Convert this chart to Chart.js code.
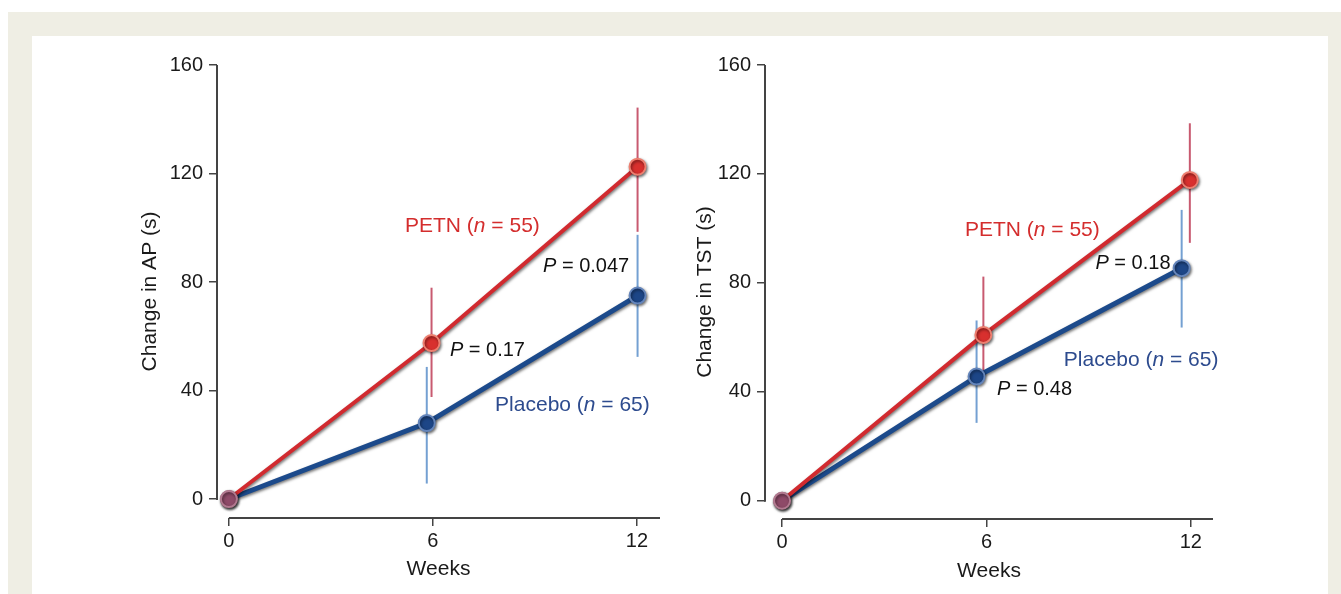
<!DOCTYPE html>
<html>
<head>
<meta charset="utf-8">
<title>PETN vs placebo</title>
<script src="https://cdn.jsdelivr.net/npm/chart.js@4.4.0/dist/chart.umd.min.js"></script>
<style>
  body { margin: 0; background: #fff; width: 1341px; height: 594px; overflow: hidden; position: relative; }
  #frame { position: absolute; left: 8px; top: 12px; right: 0; bottom: 0; background: #efeee4; }
  #panel { position: absolute; left: 32px; top: 36px; width: 1296px; bottom: 0; background: #fff; }
  canvas { position: absolute; }
</style>
</head>
<body>
<div id="frame"></div>
<div id="panel"></div>
<canvas id="chartAP" width="553" height="554" style="left:127px; top:40px;"></canvas>
<canvas id="chartTST" width="551" height="554" style="left:682px; top:40px;"></canvas>
<script>
// tick labels
var weekTicks = [0, 6, 12];
var changeTicks = [0, 40, 80, 120, 160];

// left panel: change in AP (s), mean with error bar ends
var apPetnWeeks = [0, 5.96, 12.02];
var apPetnMean = [0, 57.5, 122.5];
var apPetnLow = [0, 37.6, 98.5];
var apPetnHigh = [0, 77.9, 144.3];
var apPlaceboWeeks = [0, 5.82, 12.02];
var apPlaceboMean = [0, 28, 75];
var apPlaceboLow = [0, 5.7, 52.4];
var apPlaceboHigh = [0, 48.7, 97.4];

// right panel: change in TST (s)
var tstPetnWeeks = [0, 5.91, 11.97];
var tstPetnMean = [0, 60.9, 117.8];
var tstPetnLow = [0, 47.3, 94.7];
var tstPetnHigh = [0, 82.3, 138.6];
var tstPlaceboWeeks = [0, 5.71, 11.73];
var tstPlaceboMean = [0, 45.6, 85.4];
var tstPlaceboLow = [0, 28.6, 63.6];
var tstPlaceboHigh = [0, 66.2, 106.8];

var FONT = '"Liberation Sans", Arial, Helvetica, sans-serif';
var RED = '#d12a2f';
var RED_BAR = '#c85a70';
var RED_TEXT = '#d42d2d';
var BLUE = '#1c4a8b';
var BLUE_BAR = '#74a0d2';
var BLUE_TEXT = '#2d4b8e';
var AXIS = '#444';
Chart.defaults.font.family = FONT;

function pts(xs, ys) {
  var out = [];
  for (var i = 0; i < xs.length; i++) {
    out.push({ x: xs[i], y: ys[i] });
  }
  return out;
}

// axis lines only over the data range (offset axes)
var axisPlugin = {
  id: 'axisLines',
  beforeDatasetsDraw: function (chart) {
    var ctx = chart.ctx, xs = chart.scales.x, ys = chart.scales.y, a = chart.chartArea;
    ctx.save();
    ctx.strokeStyle = AXIS;
    ctx.lineWidth = 2;
    ctx.beginPath();
    ctx.moveTo(a.left, ys.getPixelForValue(160));
    ctx.lineTo(a.left, ys.getPixelForValue(0) + 1);
    ctx.moveTo(xs.getPixelForValue(0), a.bottom);
    ctx.lineTo(a.right, a.bottom);
    ctx.stroke();
    ctx.restore();
  }
};

var errorBarPlugin = {
  id: 'errorBars',
  beforeDatasetsDraw: function (chart) {
    var ctx = chart.ctx, xs = chart.scales.x, ys = chart.scales.y;
    ctx.save();
    ctx.lineWidth = 2;
    chart.data.datasets.forEach(function (ds) {
      ctx.strokeStyle = ds.barColor;
      ds.data.forEach(function (p, i) {
        if (ds.low[i] === ds.high[i]) return;
        var px = xs.getPixelForValue(p.x);
        ctx.beginPath();
        ctx.moveTo(px, ys.getPixelForValue(ds.low[i]));
        ctx.lineTo(px, ys.getPixelForValue(ds.high[i]));
        ctx.stroke();
      });
    });
    ctx.restore();
  }
};

var shadowPlugin = {
  id: 'shadow',
  beforeDatasetDraw: function (chart) {
    var ctx = chart.ctx;
    ctx.save();
    ctx.shadowColor = 'rgba(0,0,0,0.55)';
    ctx.shadowBlur = 3;
    ctx.shadowOffsetX = 1;
    ctx.shadowOffsetY = 1.5;
  },
  afterDatasetDraw: function (chart) {
    chart.ctx.restore();
  }
};

// text notes, *x* = italic
var notesPlugin = {
  id: 'notes',
  afterDatasetsDraw: function (chart) {
    var ctx = chart.ctx, xs = chart.scales.x, ys = chart.scales.y;
    ctx.save();
    ctx.textBaseline = 'middle';
    ctx.textAlign = 'left';
    chart.options.notes.forEach(function (n) {
      var x = xs.getPixelForValue(n.x), y = ys.getPixelForValue(n.y);
      ctx.fillStyle = n.color;
      n.text.split('*').forEach(function (t, k) {
        ctx.font = (k % 2 ? 'italic ' : '') + n.size + 'px ' + FONT;
        ctx.fillText(t, x, y);
        x += ctx.measureText(t).width;
      });
    });
    ctx.restore();
  }
};

function makeChart(id, c) {
  return new Chart(document.getElementById(id), {
    type: 'line',
    data: {
      datasets: [
        {
          label: 'PETN', data: pts(c.petnX, c.petnY), low: c.petnLow, high: c.petnHigh,
          barColor: RED_BAR, borderColor: RED, borderWidth: 4, tension: 0,
          pointRadius: 8, pointBorderWidth: 2,
          pointBackgroundColor: ['#8e4a68', '#d8302e', '#d8302e'],
          pointBorderColor: ['#b27a90', '#ee7f70', '#ee7f70']
        },
        {
          label: 'Placebo', data: pts(c.plaX, c.plaY), low: c.plaLow, high: c.plaHigh,
          barColor: BLUE_BAR, borderColor: BLUE, borderWidth: 5, tension: 0,
          pointRadius: 8, pointBorderWidth: 2,
          pointBackgroundColor: ['#8e4a68', '#1d4687', '#1d4687'],
          pointBorderColor: ['#b27a90', '#6485bb', '#6485bb']
        }
      ]
    },
    options: {
      responsive: false,
      animation: false,
      events: [],
      layout: { padding: { top: 25, right: 20, left: 0, bottom: 0 } },
      notes: c.notes,
      plugins: { legend: { display: false }, tooltip: { enabled: false } },
      scales: {
        x: {
          type: 'linear', min: c.xMin, max: c.xMax,
          afterBuildTicks: function (s) { s.ticks = weekTicks.map(function (v) { return { value: v }; }); },
          afterFit: function (s) { s.height = c.xHeight; },
          border: { display: false },
          grid: { drawOnChartArea: false, tickLength: 8, color: AXIS, lineWidth: 1.5 },
          ticks: { autoSkip: false, maxRotation: 0, padding: 3, color: '#1a1a1a', font: { size: 20 } },
          title: { display: true, text: 'Weeks', color: '#1a1a1a', font: { size: 21 }, padding: { top: 2, bottom: c.xTitlePad } }
        },
        y: {
          min: c.yMin, max: 160,
          afterBuildTicks: function (s) { s.ticks = changeTicks.map(function (v) { return { value: v }; }); },
          afterFit: function (s) { s.width = c.yWidth; },
          border: { display: false },
          grid: { drawOnChartArea: false, tickLength: 8, color: AXIS, lineWidth: 1.5 },
          ticks: { autoSkip: false, padding: 6, color: '#1a1a1a', font: { size: 20 } },
          title: { display: true, text: c.yTitle, color: '#1a1a1a', font: { size: 21 }, padding: { top: 11, bottom: 0 } }
        }
      }
    },
    plugins: [axisPlugin, errorBarPlugin, shadowPlugin, notesPlugin]
  });
}

makeChart('chartAP', {
  petnX: apPetnWeeks, petnY: apPetnMean, petnLow: apPetnLow, petnHigh: apPetnHigh,
  plaX: apPlaceboWeeks, plaY: apPlaceboMean, plaLow: apPlaceboLow, plaHigh: apPlaceboHigh,
  xMin: -0.35, xMax: 12.68, yMin: -7, xHeight: 76, yWidth: 90, xTitlePad: 12,
  yTitle: 'Change in AP (s)',
  notes: [
    { text: 'PETN (*n* = 55)', x: 5.18, y: 100.6, size: 21, color: RED_TEXT },
    { text: '*P* = 0.047', x: 9.24, y: 85.9, size: 20, color: '#111' },
    { text: '*P* = 0.17', x: 6.5, y: 54.9, size: 20, color: '#111' },
    { text: 'Placebo (*n* = 65)', x: 7.83, y: 34.7, size: 21, color: BLUE_TEXT }
  ]
});

makeChart('chartTST', {
  petnX: tstPetnWeeks, petnY: tstPetnMean, petnLow: tstPetnLow, petnHigh: tstPetnHigh,
  plaX: tstPlaceboWeeks, plaY: tstPlaceboMean, plaLow: tstPlaceboLow, plaHigh: tstPlaceboHigh,
  xMin: -0.5, xMax: 12.65, yMin: -6.7, xHeight: 75, yWidth: 83, xTitlePad: 10,
  yTitle: 'Change in TST (s)',
  notes: [
    { text: 'PETN (*n* = 55)', x: 5.37, y: 99.4, size: 21, color: RED_TEXT },
    { text: '*P* = 0.18', x: 9.2, y: 87.3, size: 20, color: '#111' },
    { text: 'Placebo (*n* = 65)', x: 8.27, y: 51.7, size: 21, color: BLUE_TEXT },
    { text: '*P* = 0.48', x: 6.31, y: 40.7, size: 20, color: '#111' }
  ]
});
</script>
</body>
</html>
